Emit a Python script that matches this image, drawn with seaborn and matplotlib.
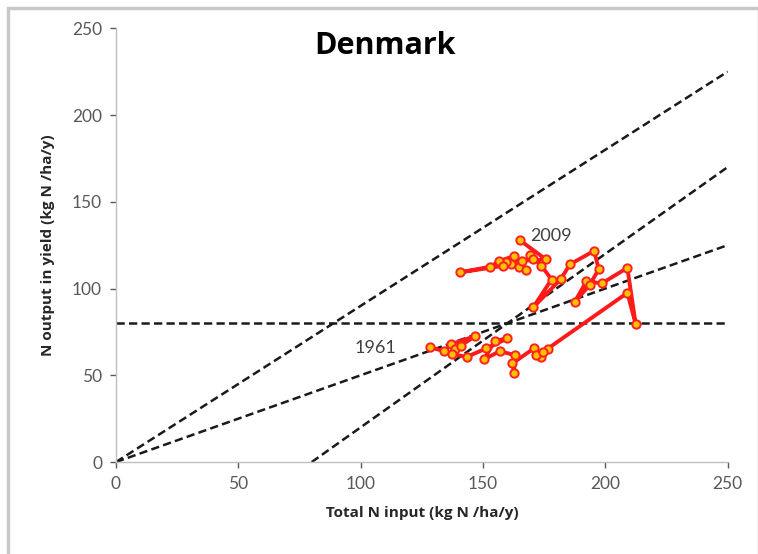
import matplotlib
matplotlib.use("Agg")
import matplotlib.pyplot as plt
import pandas as pd
import numpy as np
import seaborn as sns
from matplotlib.patches import Rectangle

# Denmark N input / N output trajectory, 1961 -> 2009
n_input = [128.3, 134.1, 137.1, 146.9, 138.5, 141.0, 137.5, 143.5, 151.4, 160.0,
           155.0, 150.3, 156.9, 163.0, 162.7, 162.0, 170.8, 173.9, 176.6, 171.6,
           174.6, 209.0, 212.4, 209.0, 198.5, 192.3, 187.5, 193.6, 197.3, 195.4,
           185.5, 181.8, 170.5, 178.0, 173.9, 169.1, 170.5, 161.4, 164.8, 167.5,
           159.6, 162.6, 156.6, 152.8, 140.5, 158.0, 166.0, 175.7, 165.0]
n_output = [66.1, 63.9, 68.0, 72.6, 64.9, 67.0, 62.0, 60.7, 65.5, 71.2,
            70.0, 59.1, 63.9, 61.6, 51.5, 56.8, 65.5, 60.3, 65.1, 61.6,
            63.5, 97.5, 79.5, 111.9, 102.9, 104.3, 92.3, 102.0, 111.2, 121.7,
            113.9, 105.4, 89.1, 105.2, 113.1, 119.6, 117.3, 113.9, 112.5, 110.6,
            115.0, 118.7, 115.8, 112.5, 109.3, 113.0, 116.0, 116.8, 127.9]

# reference lines
ref_x = [0, 250]
line_090 = [0, 225]        # y = 0.9 x
line_050 = [0, 125]        # y = 0.5 x
sur_x = [80, 250]
line_sur = [0, 170]        # y = x - 80
hline_y = [80, 80]

sns.set_style("ticks")
plt.rcParams['font.family'] = ['Lato', 'DejaVu Sans']

fig = plt.figure(figsize=(7.58, 5.54), dpi=100)
ax = fig.add_axes([0.153, 0.166, 0.807, 0.783])

dash = dict(color="#1a1a1a", linewidth=1.8, linestyle=(0, (3.3, 1.7)))
ax.plot(ref_x, line_090, **dash)
ax.plot(ref_x, line_050, **dash)
ax.plot(sur_x, line_sur, **dash)
ax.plot(ref_x, hline_y, **dash)

df = pd.DataFrame({"input": n_input, "output": n_output})
sns.lineplot(data=df, x="input", y="output", sort=False, estimator=None, ax=ax,
             color="#ff1a1a", linewidth=2.8, marker="o", markersize=6,
             markerfacecolor="#ffc000", markeredgecolor="#ff2020",
             markeredgewidth=1.4, zorder=5)

ax.text(106, 66, "1961", fontsize=13, color="#404040", ha="center", va="center")
ax.text(178, 130, "2009", fontsize=13, color="#404040", ha="center", va="center")
ax.text(110, 240, "Denmark", fontsize=22, fontweight="bold", color="black",
        ha="center", va="center", family=["Open Sans", "DejaVu Sans"])

ax.set_xlim(0, 250)
ax.set_ylim(0, 250)
ax.set_xticks(np.arange(0, 251, 50))
ax.set_yticks(np.arange(0, 251, 50))
lab = dict(fontsize=11, fontweight="bold", color="#262626",
           family=["Open Sans", "DejaVu Sans"])
ax.set_xlabel("Total N input (kg N /ha/y)", labelpad=10, **lab)
ax.set_ylabel("N output in yield (kg N /ha/y)", labelpad=12, **lab)
ax.tick_params(axis="both", labelsize=12.5, colors="#595959", length=4, width=1,
               pad=6)
for side in ["left", "bottom"]:
    ax.spines[side].set_color("#bfbfbf")
    ax.spines[side].set_linewidth(1)
sns.despine(ax=ax)

# chart area frame
fig.patches.append(Rectangle((0.011, -0.02), 0.99, 1.005, transform=fig.transFigure,
                             fill=False, edgecolor="#c8c8c8", linewidth=2.5))

fig.savefig("out.png", dpi=100)
